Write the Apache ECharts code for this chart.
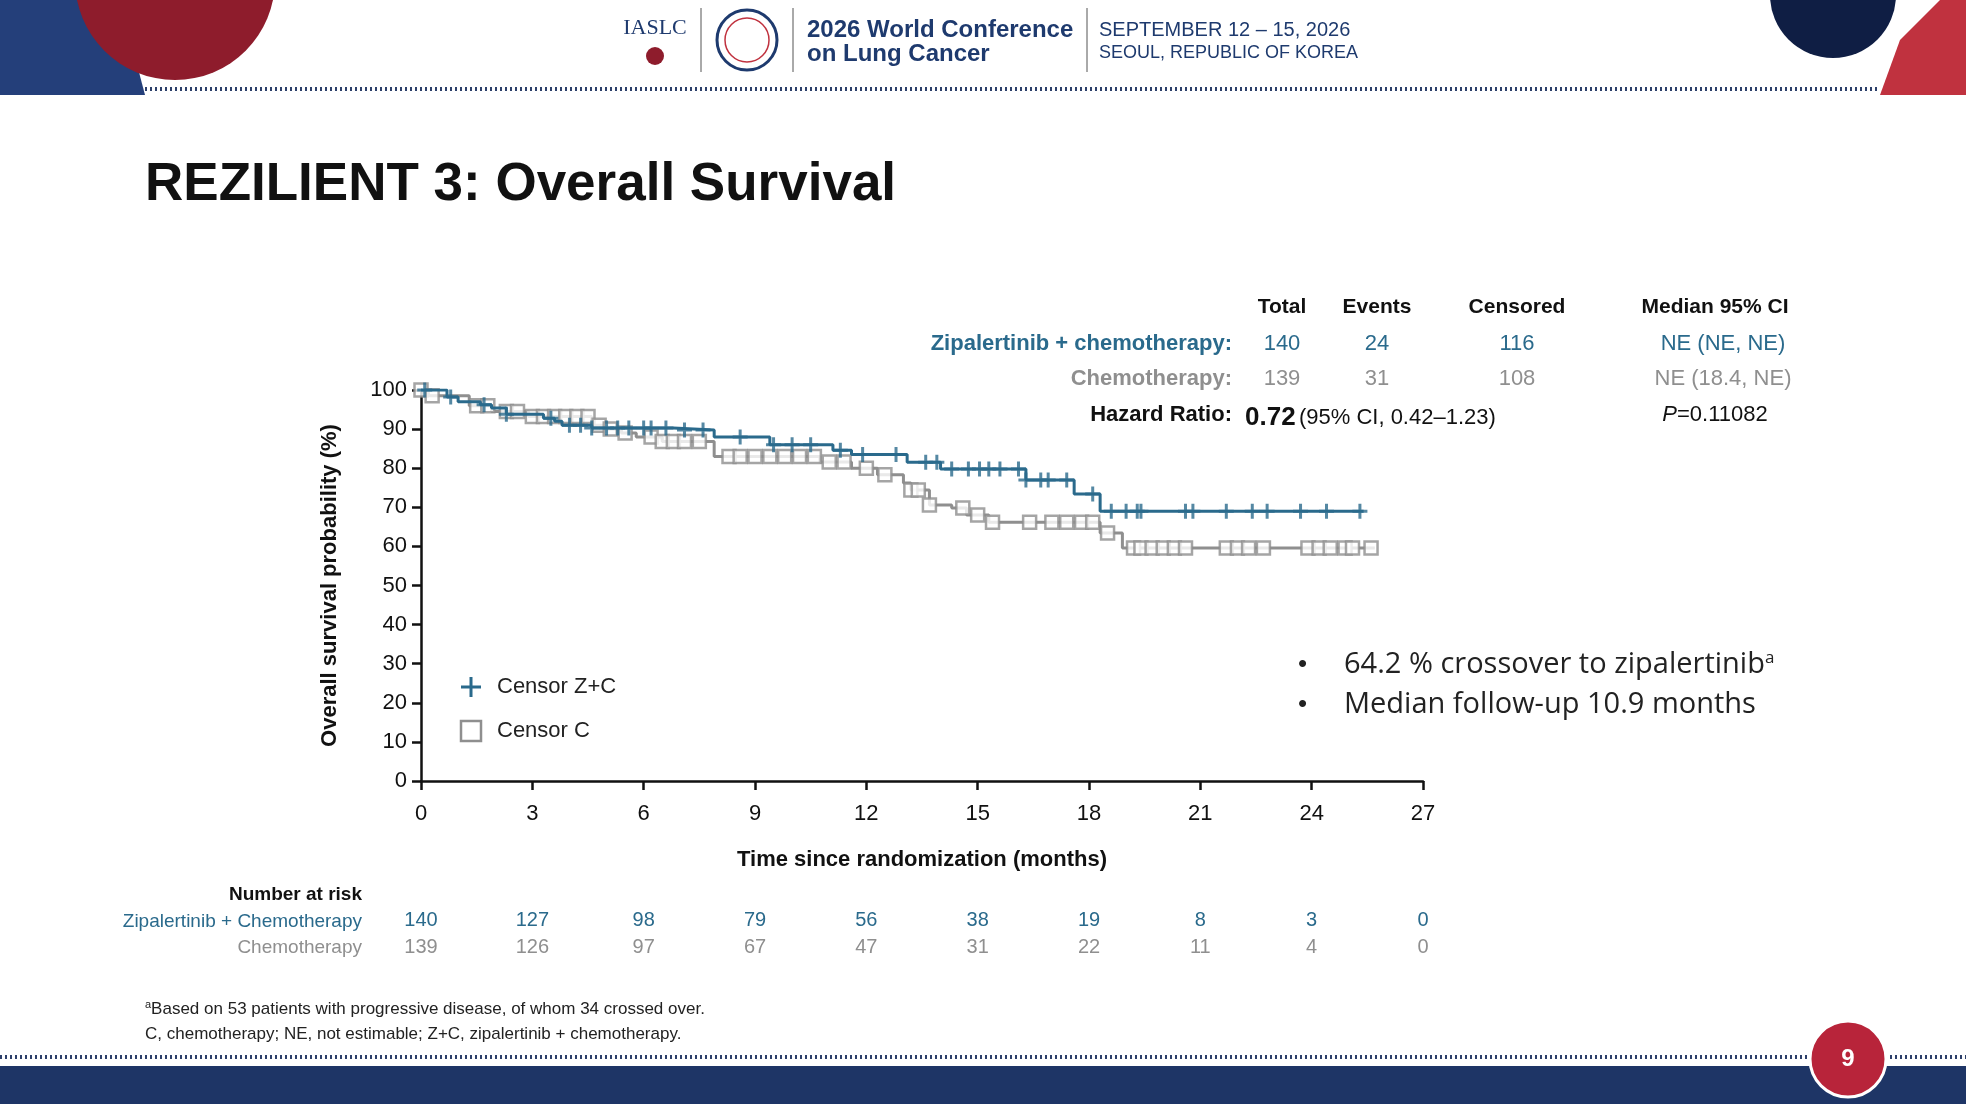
<!DOCTYPE html>
<html>
<head>
<meta charset="utf-8">
<script src="https://cdn.jsdelivr.net/npm/echarts@6/dist/echarts.min.js"></script>
<style>
html,body{margin:0;padding:0;background:#fff;}
#main{width:1966px;height:1104px;}
</style>
</head>
<body>
<div id="main"></div>
<script>
// KM steps (months, %)
var zcTimes = [0, 0.7, 1.0, 1.6, 1.9, 2.3, 3.3, 3.6, 3.8, 4.6, 6.8, 7.9, 9.4, 11.1, 11.6, 13.1, 14.0, 16.3, 17.6, 18.3, 25.4];
var zcSurv  = [100, 98.2, 97, 96.2, 95.4, 93.8, 92.8, 92, 91, 90.3, 89.8, 88, 86, 84.6, 83.5, 81.5, 79.8, 77, 73.4, 69, 69];
var cTimes  = [0, 0.2, 1.3, 1.9, 2.9, 4.6, 5.0, 5.4, 5.8, 6.5, 7.9, 10.75, 11.6, 12.3, 13.0, 13.2, 13.7, 14.3, 14.7, 15.3, 18.3, 18.9, 25.7];
var cSurv   = [100, 98.5, 96, 94.5, 93.2, 91, 90, 89, 88, 86.8, 83, 81.6, 80, 78.3, 76.2, 74.4, 70.6, 69.8, 68, 66.2, 63.4, 59.6, 59.6];

// censor times
var zcCensor = [0.1, 0.8, 1.7, 2.3, 3.5, 4.0, 4.3, 4.6, 5.0, 5.3, 5.6, 6.0, 6.2, 6.6, 7.1, 7.6, 8.6, 9.5, 10.0, 10.5, 11.3, 11.9, 12.8, 13.6, 13.9,
                14.3, 14.75, 15.05, 15.3, 15.6, 16.1, 16.3, 16.7, 16.9, 17.4, 18.1, 18.6, 19.0, 19.3, 19.4, 20.6, 20.8, 21.7, 22.4, 22.8, 23.7, 24.4, 25.3];
var cCensor  = [0, 0.3, 1.5, 1.8, 2.3, 2.6, 3.0, 3.3, 3.6, 3.9, 4.2, 4.5, 4.8, 5.1, 5.5, 6.2, 6.5, 6.8, 7.1, 7.5, 8.3, 8.6, 9.0, 9.4, 9.8, 10.2, 10.6, 11.0, 11.4,
                12.0, 12.5, 13.2, 13.4, 13.7, 14.6, 15.0, 15.4, 16.4, 17.0, 17.4, 17.8, 18.1, 18.5, 19.2, 19.4, 19.7, 20.0, 20.3, 20.6,
                21.7, 22.0, 22.3, 22.7, 23.9, 24.2, 24.5, 24.9, 25.1, 25.6];

var riskMonths = [0, 3, 6, 9, 12, 15, 18, 21, 24, 27];
var riskZC = [140, 127, 98, 79, 56, 38, 19, 8, 3, 0];
var riskC  = [139, 126, 97, 67, 47, 31, 22, 11, 4, 0];

var BLUE = '#2a6a8c', GRAY = '#8f8f8f', NAVY = '#1e3a6e', FONT = 'Arial, "Liberation Sans", sans-serif';
var PLUS = 'path://M-2,-10H2V-2H10V2H2V10H-2V2H-10V-2H-2Z';

function steps( t, s )
{
	var out = [];
	for( var i = 0; i < t.length; i++ ) out.push( [t[i], s[i]] );
	return out;
}
function survAt( t, s, x )
{
	var v = s[0];
	for( var i = 0; i < t.length; i++ ) { if( t[i] <= x ) v = s[i]; }
	return v;
}
function censorPts( ct, t, s )
{
	return ct.map( function( x ){ return [x, survAt( t, s, x )]; } );
}

var chart = echarts.init( document.getElementById( 'main' ) );

function txt( x, y, text, size, color, weight, align, extra )
{
	var st = { text: text, fontSize: size, fill: color, fontWeight: weight || 'normal', fontFamily: FONT, textAlign: align || 'left', textVerticalAlign: 'middle' };
	if( extra ) for( var k in extra ) st[k] = extra[k];
	return { type: 'text', x: x, y: y, style: st };
}

var g = [
	// header decoration
	{ type: 'polygon', shape: { points: [[0,0],[120,0],[145,95],[0,95]] }, style: { fill: '#243f7a' } },
	{ type: 'circle', shape: { cx: 175, cy: -20, r: 100 }, style: { fill: '#8e1c2c' } },
	{ type: 'circle', shape: { cx: 1833, cy: -5, r: 63 }, style: { fill: '#0f1e44' } },
	{ type: 'polygon', shape: { points: [[1966,0],[1966,95],[1880,95],[1900,40],[1940,0]] }, style: { fill: '#c0323f' } },
	{ type: 'line', shape: { x1: 145, y1: 89, x2: 1880, y2: 89 }, style: { stroke: '#2c3f6a', lineWidth: 4, lineDash: [2, 3] } },
	txt( 655, 28, 'IASLC', 22, NAVY, 'normal', 'center', { fontFamily: '"Liberation Serif", serif' } ),
	{ type: 'circle', shape: { cx: 655, cy: 56, r: 9 }, style: { fill: '#8e1c2c' } },
	{ type: 'line', shape: { x1: 701, y1: 8, x2: 701, y2: 72 }, style: { stroke: '#555', lineWidth: 1 } },
	{ type: 'circle', shape: { cx: 747, cy: 40, r: 30 }, style: { fill: '#fff', stroke: NAVY, lineWidth: 3 } },
	{ type: 'circle', shape: { cx: 747, cy: 40, r: 22 }, style: { fill: '#fff', stroke: '#c0323f', lineWidth: 1.5 } },
	{ type: 'line', shape: { x1: 793, y1: 8, x2: 793, y2: 72 }, style: { stroke: '#555', lineWidth: 1 } },
	txt( 807, 30, '2026 World Conference', 24, NAVY, 'bold' ),
	txt( 807, 54, 'on Lung Cancer', 24, NAVY, 'bold' ),
	{ type: 'line', shape: { x1: 1087, y1: 8, x2: 1087, y2: 72 }, style: { stroke: '#555', lineWidth: 1 } },
	txt( 1099, 30, 'SEPTEMBER 12 \u2013 15, 2026', 20, NAVY, 'normal' ),
	txt( 1099, 53, 'SEOUL, REPUBLIC OF KOREA', 18, NAVY, 'normal' ),
	// footer
	{ type: 'line', shape: { x1: 0, y1: 1057, x2: 1966, y2: 1057 }, style: { stroke: '#2c3f6a', lineWidth: 4, lineDash: [2, 3] } },
	{ type: 'rect', shape: { x: 0, y: 1066, width: 1966, height: 38 }, style: { fill: '#1e3566' } },
	{ type: 'circle', shape: { cx: 1848, cy: 1059, r: 38 }, style: { fill: '#b8243a', stroke: '#fff', lineWidth: 3 } },
	txt( 1848, 1059, '9', 24, '#fff', 'bold', 'center' ),
	// title
	txt( 145, 185, 'REZILIENT 3: Overall Survival', 53, '#111', 'bold' ),
	// table
	txt( 1282, 307, 'Total', 21, '#111', 'bold', 'center' ),
	txt( 1377, 307, 'Events', 21, '#111', 'bold', 'center' ),
	txt( 1517, 307, 'Censored', 21, '#111', 'bold', 'center' ),
	txt( 1715, 307, 'Median 95% CI', 21, '#111', 'bold', 'center' ),
	txt( 1232, 344, 'Zipalertinib + chemotherapy:', 22, BLUE, 'bold', 'right' ),
	txt( 1282, 344, '140', 22, BLUE, 'normal', 'center' ),
	txt( 1377, 344, '24', 22, BLUE, 'normal', 'center' ),
	txt( 1517, 344, '116', 22, BLUE, 'normal', 'center' ),
	txt( 1723, 344, 'NE (NE, NE)', 22, BLUE, 'normal', 'center' ),
	txt( 1232, 379, 'Chemotherapy:', 22, GRAY, 'bold', 'right' ),
	txt( 1282, 379, '139', 22, GRAY, 'normal', 'center' ),
	txt( 1377, 379, '31', 22, GRAY, 'normal', 'center' ),
	txt( 1517, 379, '108', 22, GRAY, 'normal', 'center' ),
	txt( 1723, 379, 'NE (18.4, NE)', 22, GRAY, 'normal', 'center' ),
	txt( 1232, 415, 'Hazard Ratio:', 22, '#111', 'bold', 'right' ),
	{ type: 'text', x: 1245, y: 418, style: { rich: { a: { fontSize: 26, fontWeight: 'bold', fill: '#111', fontFamily: FONT }, b: { fontSize: 22, fill: '#111', fontFamily: FONT } },
		text: '{a|0.72} {b|(95% CI, 0.42\u20131.23)}', textVerticalAlign: 'middle' } },
	{ type: 'text', x: 1715, y: 415, style: { rich: { i: { fontSize: 22, fontStyle: 'italic', fill: '#111', fontFamily: FONT }, n: { fontSize: 22, fill: '#111', fontFamily: FONT } },
		text: '{i|P}{n|=0.11082}', textAlign: 'center', textVerticalAlign: 'middle' } },
	// legend in plot
	{ type: 'polygon', x: 471, y: 687, shape: { points: [[-1.5,-10],[1.5,-10],[1.5,-1.5],[10,-1.5],[10,1.5],[1.5,1.5],[1.5,10],[-1.5,10],[-1.5,1.5],[-10,1.5],[-10,-1.5],[-1.5,-1.5]] }, style: { fill: BLUE } },
	txt( 497, 687, 'Censor Z+C', 22, '#222' ),
	{ type: 'rect', shape: { x: 461, y: 721, width: 20, height: 20 }, style: { fill: '#fff', stroke: GRAY, lineWidth: 2.5 } },
	txt( 497, 731, 'Censor C', 22, '#222' ),
	// bullets
	txt( 1298, 665, '\u2022', 26, '#222' ),
	{ type: 'text', x: 1344, y: 665, style: { rich: { t: { fontSize: 29, fill: '#222', fontFamily: '"Open Sans", sans-serif' }, s: { fontSize: 17, fill: '#222', verticalAlign: 'top', padding: [0, 0, 14, 0], fontFamily: '"Open Sans", sans-serif' } },
		text: '{t|64.2 % crossover to zipalertinib}{s|a}', textVerticalAlign: 'middle' } },
	txt( 1298, 705, '\u2022', 26, '#222' ),
	txt( 1344, 705, 'Median follow-up 10.9 months', 29, '#222', 'normal', 'left', { fontFamily: '"Open Sans", sans-serif' } ),
	// number at risk labels
	txt( 362, 895, 'Number at risk', 19, '#111', 'bold', 'right' ),
	txt( 362, 922, 'Zipalertinib + Chemotherapy', 19, BLUE, 'normal', 'right' ),
	txt( 362, 948, 'Chemotherapy', 19, GRAY, 'normal', 'right' ),
	// footnotes
	{ type: 'text', x: 145, y: 1009, style: { rich: { s: { fontSize: 11, fill: '#222', verticalAlign: 'top', padding: [0, 0, 8, 0] }, t: { fontSize: 17, fill: '#222', fontFamily: FONT } },
		text: '{s|a}{t|Based on 53 patients with progressive disease, of whom 34 crossed over.}', textVerticalAlign: 'middle' } },
	txt( 145, 1034, 'C, chemotherapy; NE, not estimable; Z+C, zipalertinib + chemotherapy.', 17, '#222' )
];

var option = {
	animation: false,
	grid: { left: 421, right: 543, top: 390, bottom: 323 },
	xAxis: {
		type: 'value', min: 0, max: 27, interval: 3,
		name: 'Time since randomization (months)', nameLocation: 'middle', nameGap: 68,
		nameTextStyle: { fontSize: 22, fontWeight: 'bold', color: '#111', fontFamily: FONT },
		axisLine: { lineStyle: { color: '#111', width: 2.5 } },
		axisTick: { length: 9, lineStyle: { color: '#111', width: 2.5 } },
		axisLabel: { fontSize: 22, color: '#111', margin: 22, fontFamily: FONT },
		splitLine: { show: false }
	},
	yAxis: {
		type: 'value', min: 0, max: 100, interval: 10,
		name: 'Overall survival probability (%)', nameLocation: 'middle', nameGap: 80,
		nameTextStyle: { fontSize: 22, fontWeight: 'bold', color: '#111', fontFamily: FONT },
		axisLine: { show: true, lineStyle: { color: '#111', width: 2.5 } },
		axisTick: { show: true, length: 9, lineStyle: { color: '#111', width: 2.5 } },
		axisLabel: { fontSize: 22, color: '#111', margin: 14, fontFamily: FONT },
		splitLine: { show: false }
	},
	series: [
		{ type: 'line', step: 'end', data: steps( cTimes, cSurv ), symbol: 'none', lineStyle: { color: GRAY, width: 3 }, z: 2 },
		{ type: 'scatter', data: censorPts( cCensor, cTimes, cSurv ), symbol: 'rect', symbolSize: 13,
			itemStyle: { color: '#fff', borderColor: GRAY, borderWidth: 2.5 }, z: 3 },
		{ type: 'line', step: 'end', data: steps( zcTimes, zcSurv ), symbol: 'none', lineStyle: { color: BLUE, width: 3 }, z: 4 },
		{ type: 'scatter', data: censorPts( zcCensor, zcTimes, zcSurv ), symbol: PLUS,
			symbolSize: 15, itemStyle: { color: BLUE }, z: 5 }
	],
	graphic: g
};
chart.setOption( option );

// number at risk aligned to x axis
var risk = [];
for( var i = 0; i < riskMonths.length; i++ )
{
	var px = chart.convertToPixel( { xAxisIndex: 0 }, riskMonths[i] );
	risk.push( txt( px, 920, String( riskZC[i] ), 20, BLUE, 'normal', 'center' ) );
	risk.push( txt( px, 947, String( riskC[i] ), 20, GRAY, 'normal', 'center' ) );
}
chart.setOption( { graphic: g.concat( risk ) } );
</script>
</body>
</html>
